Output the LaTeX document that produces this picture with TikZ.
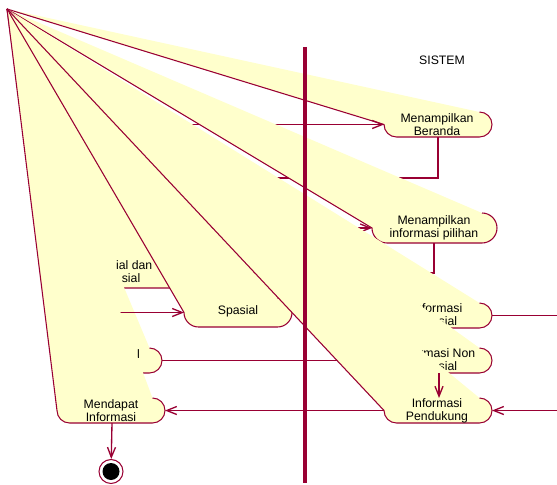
\documentclass[tikz,border=0pt]{standalone}
\usepackage{fontspec}
\setmainfont{Liberation Sans}
\usetikzlibrary{arrows.meta}
\definecolor{rline}{RGB}{153,0,51}
\definecolor{afill}{RGB}{255,255,204}
% activity whose left end is pulled to (tip): west x, east x, top y, bottom y
\newcommand{\aktivitas}[4]{%
  \pgfmathsetmacro{\akrad}{(#4-#3)/2}
  \fill[actfill] (tip) -- ({#2-\akrad},#3) arc[start angle=-90,end angle=90,radius=\akrad]
    -- ({#1+\akrad},#4) arc[start angle=90,end angle=180,radius=\akrad] -- cycle;
  \draw[actline] ({#2-\akrad},#3) arc[start angle=-90,end angle=90,radius=\akrad]
    -- ({#1+\akrad},#4) arc[start angle=90,end angle=180,radius=\akrad] -- (tip);
}

\begin{document}
\begin{tikzpicture}[x=0.75pt,y=-0.75pt,
	actfill/.style={fill=afill},
	actline/.style={draw=rline,line width=0.8pt},
	flow/.style={draw=rline,line width=1pt,-{Straight Barb[length=7.5pt,width=6pt]}},
	lane/.style={draw=rline,line width=3pt},
	lbl/.style={font=\fontsize{9.2}{9.75}\selectfont,align=center,inner sep=0pt}]
	\useasboundingbox (0,0) rectangle (557,485);
	\clip (0,0) rectangle (557,485);
	\coordinate (tip) at (7,9);
	% anchors
	\coordinate (beranda-w) at (384,124.5);
	\coordinate (beranda-s) at (438,137);
	\coordinate (pilihan-w) at (372,228);
	\coordinate (pilihan-s) at (434,243);
	\coordinate (pilihspasial-e) at (200,273);
	\coordinate (infospasial-e) at (492,315.5);
	\coordinate (infononspasial-w) at (384,360.5);
	\coordinate (infononspasial-s) at (439,373);
	\coordinate (spasial-w) at (184,312.5);
	\coordinate (pilihnon-e) at (162,360.5);
	\coordinate (mendapat-e) at (165,410.5);
	\coordinate (mendapat-s) at (112,423);
	\coordinate (pendukung-w) at (384,410.5);
	\coordinate (pendukung-n) at (439,398);
	\coordinate (pendukung-e) at (492,410.5);
	\coordinate (u1) at (100,124.5);
	\coordinate (u2) at (100,178);
	\coordinate (u3) at (100,228);
	\coordinate (u4) at (90,312.5);
	\coordinate (kanan) at (575,315.5);

	\aktivitas{384}{492}{112}{137}
	\node[lbl] (beranda) at (437,124.5) {Menampilkan\\Beranda};
	\draw[flow] (u1) -- (beranda-w);
	\draw[flow] (beranda-s) |- (u2);

	\aktivitas{372}{497}{213}{243}
	\node[lbl] (pilihan) at (434,228) {Menampilkan\\informasi pilihan};
	\draw[flow] (u3) -- (pilihan-w);
	\draw[flow] (pilihan-s) |- (pilihspasial-e);

	\aktivitas{70}{200}{258}{288}
	\node[lbl,anchor=east] (pilihspasial-a) at (152.5,265.5) {ial dan};
	\node[lbl,anchor=east] (pilihspasial-b) at (140.5,278.5) {sial};

	\aktivitas{384}{492}{303}{328}
	\node[lbl] (infospasial) at (437,315.5) {Informasi\\Spasial};

	\aktivitas{384}{492}{348}{373}
	\node[lbl] (infononspasial) at (437,360.5) {Informasi Non\\Spasial};

	\aktivitas{184}{292}{298}{327}
	\node[lbl] (spasial) at (238,311) {Spasial};

	\aktivitas{54}{162}{348}{373}
	\node[lbl,anchor=east] (pilihnon) at (140,354) {l};
	\draw[flow] (u4) -- (spasial-w);

	\aktivitas{57}{165}{398}{423}
	\node[lbl] (mendapat) at (111,410.5) {Mendapat\\Informasi};
	\draw[flow] (pilihnon-e) -- (infononspasial-w);

	\aktivitas{384}{492}{398}{423}
	\node[lbl] (pendukung) at (437,410.5) {Informasi\\Pendukung};

	\draw[flow] (pendukung-w) -- (mendapat-e);
	\draw[flow] (infononspasial-s) -- (pendukung-n);
	\draw[flow] (infospasial-e) -- (kanan) |- (pendukung-e);

	% final state
	\node[circle,draw=rline,line width=0.8pt,fill=white,minimum size=18pt,inner sep=0pt] (akhir) at (111,471.5) {};
	\fill[black] (akhir.center) circle[radius=8.5];
	\draw[flow] (mendapat-s) -- (akhir);

	% swimlane
	\draw[lane] (305,47) -- (305,483);
	\node[lbl] (sistem) at (442,60) {SISTEM};
\end{tikzpicture}
\end{document}
